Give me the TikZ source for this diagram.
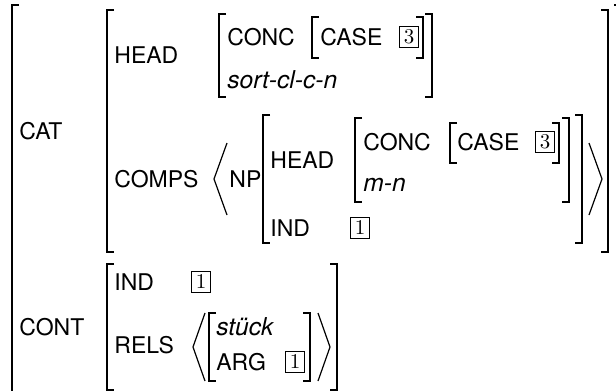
\documentclass[tikz,border=0pt]{standalone}
\usepackage{fontspec}
\setsansfont{TeX Gyre Heros}
\usepackage{tikz}
\usetikzlibrary{positioning}

\begin{document}
\begin{tikzpicture}[x=0.5pt,y=-0.5pt,font=\sffamily\fontsize{11.5}{14}\selectfont,
  feat/.style={anchor=base west,inner sep=0pt},
  srt/.style={anchor=base west,inner sep=0pt,font=\sffamily\itshape\fontsize{12.3}{14}\selectfont},
  tag/.style={draw,line width=0.4pt,inner sep=0pt,minimum width=9.8pt,minimum height=10.2pt,font=\rmfamily\fontsize{10.5}{12}\selectfont},
  brk/.style={line width=0.7pt},
  ang/.style={line width=0.6pt}]
\useasboundingbox (0,0) rectangle (616,391);
\node[feat] (cat) at (19,139) {CAT};
\node[feat] (cont) at (19,335) {CONT};
\node[feat] (headA) at (114,63) {HEAD};
\node[feat] (comps) at (114,187) {COMPS};
\node[feat] (concA) at (227,45) {CONC};
\node[feat] (caseA) at (320,45) {CASE};
\node[tag] (tagA) at (409,37) {3};
\node[srt] (sort) at (227,88) {sort-cl-c-n};
\node[feat] (np) at (229,187) {NP};
\node[feat] (headB) at (270,168) {HEAD};
\node[feat] (concB) at (363,150) {CONC};
\node[feat] (caseB) at (457,150) {CASE};
\node[tag] (tagB) at (545,142) {3};
\node[srt] (mn) at (363,191) {m-n};
\node[feat] (indA) at (270,236) {IND};
\node[tag] (tagC) at (360,228) {1};
\node[feat] (indB) at (114,290) {IND};
\node[tag] (tagD) at (201,282) {1};
\node[feat] (rels) at (114,353) {RELS};
\node[srt] (stueck) at (216,335) {stück};
\node[feat] (arg) at (216,370) {ARG};
\node[tag] (tagE) at (295,362) {1};
\draw[brk] (19,5) -| (12,391);
\draw[brk] (614,5) -- (616,5);
\draw[brk] (114,10) -| (107,252) -- (114,252);
\draw[brk] (601,10) -| (608,252) -- (601,252);
\draw[brk] (226,14) -| (219,97) -- (226,97);
\draw[brk] (425,14) -| (432,97) -- (425,97);
\draw[brk] (319,17) -| (312,58) -- (319,58);
\draw[brk] (416,17) -| (423,58) -- (416,58);
\draw[ang] (227,143) -- (214,179) -- (227,215);
\draw[brk] (270,115) -| (263,243) -- (270,243);
\draw[brk] (575,115) -| (582,243) -- (575,243);
\draw[brk] (362,118) -| (355,202) -- (362,202);
\draw[brk] (562,118) -| (569,202) -- (562,202);
\draw[brk] (457,123) -| (450,163) -- (457,163);
\draw[brk] (552,123) -| (559,163) -- (552,163);
\draw[ang] (589,143) -- (602,179) -- (589,215);
\draw[brk] (114,264) -| (107,390) -- (114,390);
\draw[brk] (330,264) -| (337,390) -- (330,390);
\draw[ang] (205,313) -- (193,347) -- (205,381);
\draw[brk] (216,313) -| (209,381) -- (216,381);
\draw[brk] (303,313) -| (310,381) -- (303,381);
\draw[ang] (318,313) -- (330,347) -- (318,381);
\end{tikzpicture}
\end{document}
